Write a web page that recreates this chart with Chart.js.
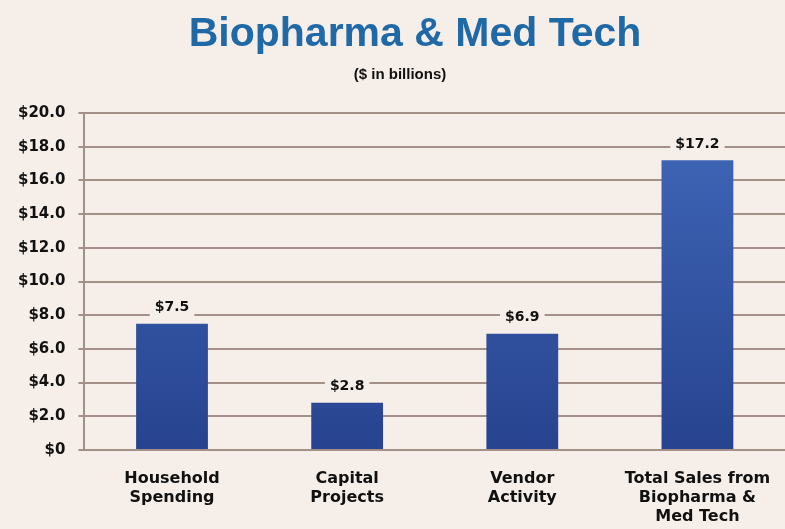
<!DOCTYPE html>
<html>
<head>
<meta charset="utf-8">
<script src="https://cdn.jsdelivr.net/npm/chart.js@4.4.1/dist/chart.umd.min.js"></script>
<style>
  html, body { margin: 0; padding: 0; background: #f6efe9; }
  #wrap { width: 785px; height: 529px; }
</style>
</head>
<body>
<div id="wrap"><canvas id="chart"></canvas></div>
<script>
const categories = [
  ['Household', 'Spending'],
  ['Capital', 'Projects'],
  ['Vendor', 'Activity'],
  ['Total Sales from', 'Biopharma &', 'Med Tech']
];
const values = [7.5, 2.8, 6.9, 17.2];
const yTicks = [0, 2, 4, 6, 8, 10, 12, 14, 16, 18, 20];

const titleText = 'Biopharma & Med Tech';
const subtitleText = '($ in billions)';
const bg = '#f6efe9';
const gridColor = '#a39088';

function money(v) {
  return v === 0 ? '$0' : '$' + v.toFixed(1);
}

// title + subtitle drawn at fixed spot, slightly right of canvas centre like the source
const headerPlugin = {
  id: 'header',
  afterDraw(chart) {
    const ctx = chart.ctx;
    ctx.save();
    ctx.textAlign = 'center';
    ctx.textBaseline = 'middle';
    ctx.fillStyle = '#1f69a6';
    ctx.font = 'bold 41px "Liberation Sans", Arial, sans-serif';
    ctx.fillText(titleText, 415, 35);
    ctx.fillStyle = '#111';
    ctx.font = 'bold 15px "Liberation Sans", Arial, sans-serif';
    ctx.fillText(subtitleText, 400, 75);
    ctx.restore();
  }
};

// value labels over the bars, with a background patch that hides the grid line
const valueLabels = {
  id: 'valueLabels',
  afterDatasetsDraw(chart) {
    const ctx = chart.ctx;
    const meta = chart.getDatasetMeta(0);
    ctx.save();
    ctx.font = 'bold 14px "DejaVu Sans", sans-serif';
    ctx.textAlign = 'center';
    ctx.textBaseline = 'middle';
    meta.data.forEach((bar, i) => {
      const txt = money(values[i]);
      const w = ctx.measureText(txt).width;
      const y = bar.y - 16;
      ctx.fillStyle = bg;
      ctx.fillRect(bar.x - w / 2 - 5, y - 9, w + 10, 18);
      ctx.fillStyle = '#111';
      ctx.fillText(txt, bar.x, y);
    });
    ctx.restore();
  }
};

new Chart(document.getElementById('chart'), {
  type: 'bar',
  data: {
    labels: categories,
    datasets: [{
      data: values,
      backgroundColor(c) {
        const area = c.chart.chartArea;
        if (!area) return '#3458a8';
        const g = c.chart.ctx.createLinearGradient(0, area.top, 0, area.bottom);
        g.addColorStop(0, '#4068b8');
        g.addColorStop(1, '#27438f');
        return g;
      },
      borderWidth: 0,
      categoryPercentage: 1,
      barPercentage: 0.41
    }]
  },
  options: {
    responsive: true,
    maintainAspectRatio: false,
    animation: false,
    layout: { padding: { top: 113, right: 0, bottom: 0, left: 5 } },
    plugins: {
      legend: { display: false },
      tooltip: { enabled: false }
    },
    scales: {
      x: {
        // last label runs off the bottom edge in the source, so fix the axis height
        // and keep the plot running right up to the canvas edge
        afterFit(axis) {
          axis.height = 79;
          axis.paddingRight = 0;
        },
        grid: { display: false, drawTicks: false },
        border: { display: true, color: gridColor, width: 2 },
        ticks: {
          color: '#111',
          padding: 19,
          maxRotation: 0,
          font: { family: '"DejaVu Sans", sans-serif', size: 16, weight: 'bold', lineHeight: 1.2 }
        }
      },
      y: {
        min: 0,
        max: 20,
        afterBuildTicks(axis) {
          axis.ticks = yTicks.map(v => ({ value: v }));
        },
        grid: {
          color: gridColor,
          lineWidth: 2,
          tickLength: 6,
          drawTicks: true
        },
        border: { display: true, color: gridColor, width: 2 },
        ticks: {
          color: '#111',
          padding: 13,
          font: { family: '"DejaVu Sans", sans-serif', size: 15, weight: 'bold' },
          callback: v => money(v)
        }
      }
    }
  },
  plugins: [headerPlugin, valueLabels]
});
</script>
</body>
</html>
